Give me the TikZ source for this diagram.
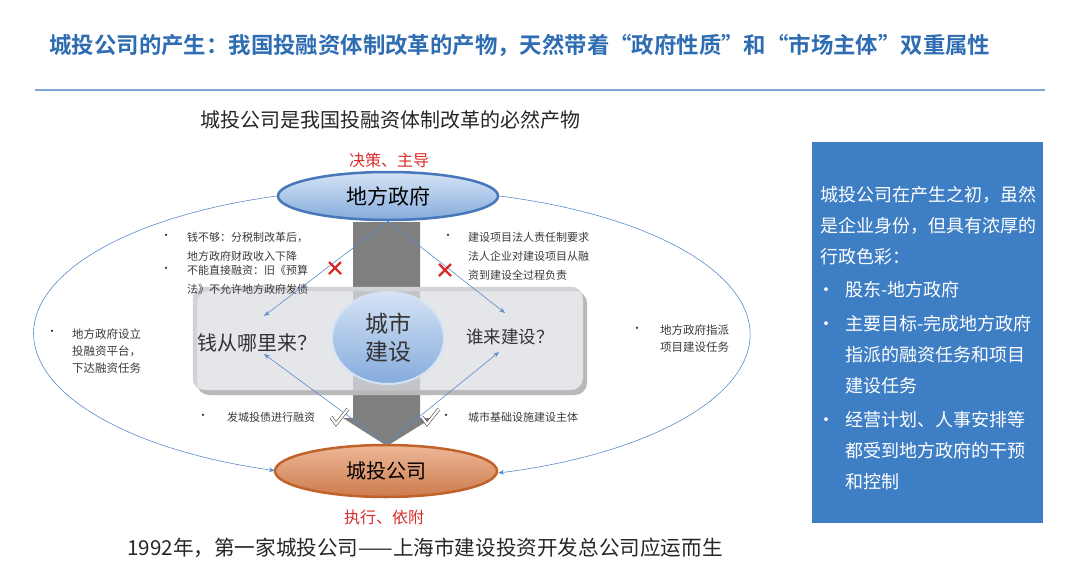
\documentclass[tikz,border=0pt]{standalone}
\usepackage{fontspec}
\setmainfont{Noto Sans CJK SC}[BoldFont={Noto Sans CJK SC Bold}]
\usetikzlibrary{shapes.geometric,arrows.meta}
\definecolor{titleblue}{HTML}{2F6DB3}
\definecolor{ruleblue}{HTML}{7FA7D6}
\definecolor{linkblue}{HTML}{5B8BC8}
\definecolor{govedge}{HTML}{4777BA}
\definecolor{govtop}{HTML}{D5E3F5}
\definecolor{govbottom}{HTML}{85ABDC}
\definecolor{cityedge}{HTML}{C0622A}
\definecolor{citytop}{HTML}{EDB898}
\definecolor{citybottom}{HTML}{CD7B4D}
\definecolor{notered}{HTML}{D92B2B}
\definecolor{sideblue}{HTML}{3E7EC4}
\definecolor{notegray}{HTML}{3A3A3A}
\definecolor{arrowgray}{HTML}{7F7F7F}
\definecolor{panelgray}{HTML}{DBDDE2}
\begin{document}
\begin{tikzpicture}[x=1pt,y=1pt,
  note/.style={font=\fontsize{11pt}{19pt}\selectfont,text=notegray,align=left,anchor=north west,inner sep=0},
  dot/.style={font=\fontsize{11pt}{19pt}\selectfont,text=notegray,inner sep=0},
  link/.style={linkblue,line width=0.6pt,-{Stealth[length=6pt,width=4.5pt]}},
  cross/.style={notered,line width=2.2pt},
  tick/.style={black!70,line width=0.6pt,double=white,double distance=2.2pt,line join=miter}]
\useasboundingbox (0,0) rectangle (1080,-563);
\node[anchor=west,text=titleblue,font=\fontsize{22.4pt}{26pt}\selectfont\bfseries] (title) at (46,-45) {城投公司的产生：我国投融资体制改革的产物，天然带着“政府性质”和“市场主体”双重属性};
\draw[ruleblue,line width=1.5pt] (35,-90) -- (1045,-90);
\node[font=\fontsize{20pt}{24pt}\selectfont,text=black!85] (sub) at (390,-120) {城投公司是我国投融资体制改革的必然产物};
\fill[arrowgray] (353,-222) -- (420,-222) -- (420,-418) -- (432,-418) -- (387,-446) -- (343,-418) -- (353,-418) -- cycle;
\fill[gray!55,even odd rule,rounded corners=12] (197,-291) rectangle (587,-395) (193,-287) rectangle (583,-390);
\node[draw=gray!35,fill=panelgray,fill opacity=0.75,rounded corners=12,minimum width=390,minimum height=103] (panel) at (388,-338.5) {};
\node[ellipse,minimum width=220,minimum height=48,inner sep=0,draw=govedge,line width=2.5pt,top color=govtop,bottom color=govbottom,font=\fontsize{21pt}{24pt}\selectfont] (gov) at (388,-196) {地方政府};
\node[ellipse,minimum width=222,minimum height=52,inner sep=0,draw=cityedge,line width=2.5pt,top color=citytop,bottom color=citybottom,font=\fontsize{20pt}{24pt}\selectfont] (company) at (386,-471) {城投公司};
\node[ellipse,minimum width=112,minimum height=92,inner sep=0,draw=govtop,line width=2pt,top color=govtop,bottom color=govbottom,align=center,font=\fontsize{23pt}{28pt}\selectfont,text=black!80] (city) at (388,-338) {城市\\建设};
\node[text=notered,font=\fontsize{16pt}{18pt}\selectfont] (lead) at (389,-160) {决策、主导};
\node[text=notered,font=\fontsize{16pt}{18pt}\selectfont] (follow) at (384,-517) {执行、依附};
\node[font=\fontsize{20pt}{22pt}\selectfont,text=black!80] (money) at (257,-343) {钱从哪里来？};
\node[font=\fontsize{17.5pt}{22pt}\selectfont,text=black!80] (builder) at (510,-337) {谁来建设？};
\node[font=\fontsize{20.6pt}{24pt}\selectfont,text=black!85] (first) at (425,-548) {1992年，第一家城投公司——上海市建设投资开发总公司应运而生};
\node[dot] (d1) at (166,-237) {•};
\node[note] (n1) at (187,-232) {钱不够：分税制改革后，\\地方政府财政收入下降};
\node[dot] (d2) at (166,-270) {•};
\node[note] (n2) at (187,-265) {不能直接融资：旧《预算\\法》不允许地方政府发债};
\node[dot] (d3) at (448,-237) {•};
\node[note] (n3) at (468,-232) {建设项目法人责任制要求\\法人企业对建设项目从融\\资到建设全过程负责};
\node[dot] (d4) at (52,-333) {•};
\node[note,font=\fontsize{11.5pt}{17pt}\selectfont] (n4) at (72,-328.5) {地方政府设立\\投融资平台，\\下达融资任务};
\node[dot] (d5) at (637,-330) {•};
\node[note,font=\fontsize{11.5pt}{16.5pt}\selectfont] (n5) at (660,-325) {地方政府指派\\项目建设任务};
\node[dot] (d6) at (203,-417) {•};
\node[note,anchor=west] (n6) at (227,-417) {发城投债进行融资};
\node[dot] (d7) at (446,-417) {•};
\node[note,anchor=west] (n7) at (468,-417) {城市基础设施建设主体};
\coordinate (moneyin) at (264,-316);
\coordinate (builderin) at (505,-313);
\coordinate (moneyout) at (264,-354);
\coordinate (builderout) at (499,-352);
\draw[link] (gov.south) -- (moneyin);
\draw[link] (gov.south) -- (builderin);
\draw[link] (company.north) -- (moneyout);
\draw[link] (company.north) -- (builderout);
\draw[link] (gov.west) arc[start angle=108.6,end angle=251.1,x radius=357,y radius=145];
\draw[link] (gov.east) arc[start angle=72.7,end angle=-72.9,x radius=357,y radius=145];
\coordinate (crossL) at (335,-268);
\coordinate (crossR) at (445,-270);
\draw[cross] (crossL) ++(-6,6) -- ++(12,-12) ++(0,12) -- ++(-12,-12);
\draw[cross] (crossR) ++(-6,6) -- ++(12,-12) ++(0,12) -- ++(-12,-12);
\coordinate (tickL) at (339,-416);
\coordinate (tickR) at (430,-416);
\draw[tick] (tickL) ++(-8,-1) -- ++(5,-7) -- ++(12,15);
\draw[tick] (tickR) ++(-8,-1) -- ++(5,-7) -- ++(12,15);
\node[fill=sideblue,minimum width=231,minimum height=381,inner sep=0] (side) at (927.5,-332.5) {};
\node[anchor=north west,text=white,align=left,inner sep=0,font=\fontsize{18pt}{31pt}\selectfont] (sidetext) at (820,-186) {城投公司在产生之初，虽然\\是企业身份，但具有浓厚的\\行政色彩：\\[2pt]
\makebox[25pt][l]{\hspace*{-3pt}•}股东-地方政府\\[3pt]
\makebox[25pt][l]{\hspace*{-3pt}•}主要目标-完成地方政府\\
\hspace*{25pt}指派的融资任务和项目\\
\hspace*{25pt}建设任务\\[3.5pt]
\makebox[25pt][l]{\hspace*{-3pt}•}经营计划、人事安排等\\
\hspace*{25pt}都受到地方政府的干预\\
\hspace*{25pt}和控制};
\end{tikzpicture}
\end{document}
